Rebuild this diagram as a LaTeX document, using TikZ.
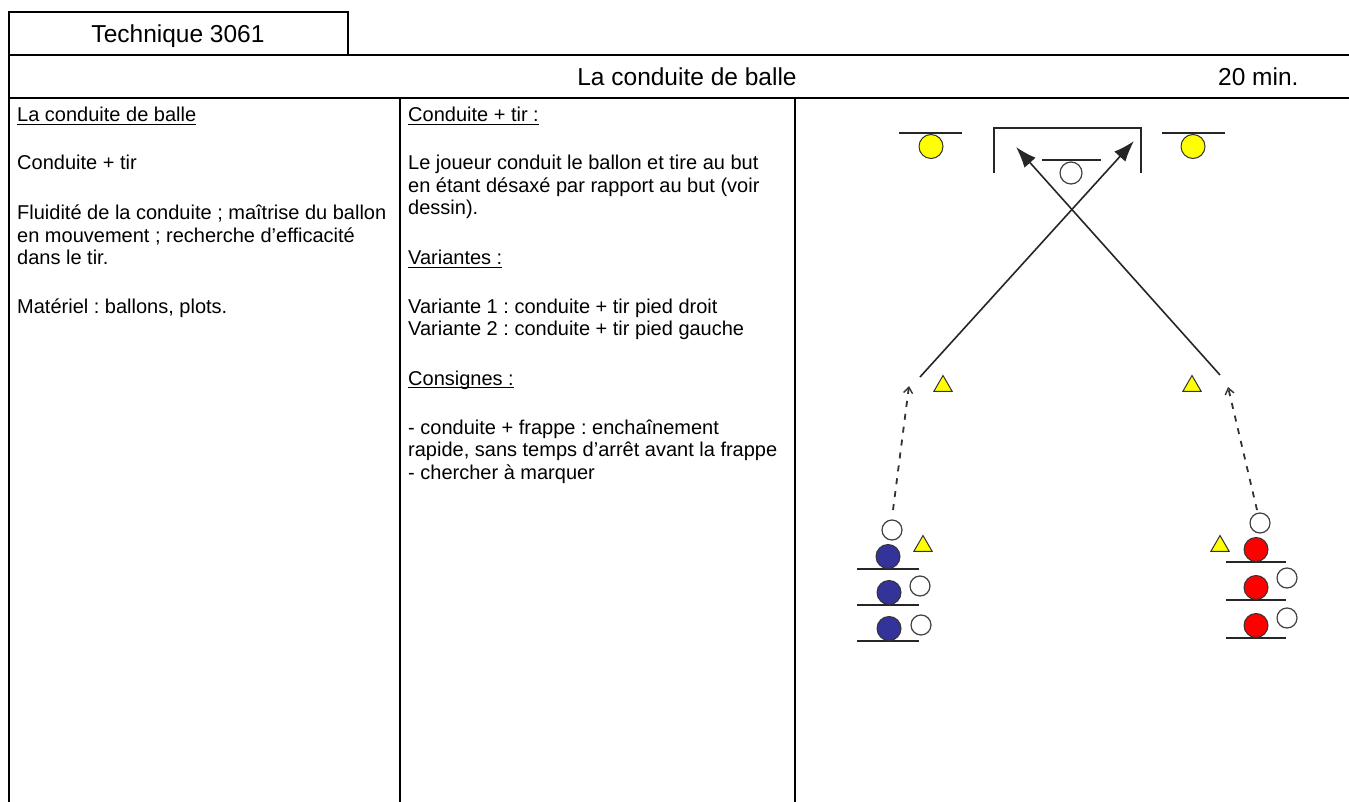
\documentclass[tikz,border=0pt]{standalone}
\usepackage{fontspec}
\setmainfont{Liberation Sans}
\usetikzlibrary{arrows.meta,shapes.geometric}
\frenchspacing
\newcommand\undl[1]{\setbox0=\hbox{#1}\rlap{\rule[-3.2pt]{\wd0}{1.1pt}}\box0}
\definecolor{pblue}{HTML}{333399}
\definecolor{pred}{HTML}{FF0000}
\definecolor{pyel}{HTML}{FFFF00}
\begin{document}
\begin{tikzpicture}[x=1pt,y=-1pt,
  frame/.style={line width=2pt,black},
  body/.style={anchor=base west,inner sep=0pt,font=\fontsize{20}{24}\selectfont},
  head/.style={inner sep=0pt,font=\fontsize{24.5}{28}\selectfont},
  fline/.style={line width=1.7pt,black!85},
  player/.style={circle,draw=black!80,line width=1pt,minimum size=24pt,inner sep=0pt},
  blueplayer/.style={player,fill=pblue},
  redplayer/.style={player,fill=pred},
  yelplayer/.style={player,fill=pyel},
  ball/.style={circle,draw=black!75,line width=1.2pt,fill=white,minimum size=20pt,inner sep=0pt},
  cone/.style={regular polygon,regular polygon sides=3,draw=black!80,line width=1pt,fill=pyel,minimum size=21pt,inner sep=0pt},
  shot/.style={line width=1.6pt,black!85,-{Latex[length=21pt,width=15pt]}},
  run/.style={line width=1.8pt,black!80,dash pattern=on 6pt off 7pt,-{Straight Barb[length=6pt,width=9pt,line width=1.4pt]}}
]
\useasboundingbox (0,0) rectangle (1349,802);
\fill[white] (0,0) rectangle (1349,802);

% frame
\draw[frame] (9,55) -- (9,12) -- (348,12) -- (348,55);
\draw[frame] (9,55) -- (1349,55);
\draw[frame] (9,98) -- (1349,98);
\draw[frame] (9,12) -- (9,802);
\draw[frame] (400,98) -- (400,802);
\draw[frame] (795,98) -- (795,802);

% header texts
\node[head,anchor=base] (tech) at (178,43) {Technique 3061};
\node[head,anchor=base] (title) at (687,86) {La conduite de balle};
\node[head,anchor=base west] (dur) at (1218,86) {20 min.};

% left column
\node[body] (l1) at (17,122) {\undl{La conduite de balle}};
\node[body] (l2) at (17,170) {Conduite + tir};
\node[body] (l3) at (17,220) {Fluidité de la conduite ; maîtrise du ballon};
\node[body] (l4) at (17,242.5) {en mouvement ; recherche d’efficacité};
\node[body] (l5) at (17,265) {dans le tir.};
\node[body] (l6) at (17,313) {Matériel : ballons, plots.};

% middle column
\node[body] (m1) at (408,122) {\undl{Conduite + tir :}};
\node[body] (m2) at (408,170) {Le joueur conduit le ballon et tire au but};
\node[body] (m3) at (408,192.5) {en étant désaxé par rapport au but (voir};
\node[body] (m4) at (408,215) {dessin).};
\node[body] (m5) at (408,265) {\undl{Variantes :}};
\node[body] (m6) at (408,313) {Variante 1 : conduite + tir pied droit};
\node[body] (m7) at (408,335.5) {Variante 2 : conduite + tir pied gauche};
\node[body] (m8) at (408,385) {\undl{Consignes :}};
\node[body] (m9) at (408,434) {- conduite + frappe : enchaînement};
\node[body] (m10) at (408,456.5) {rapide, sans temps d’arrêt avant la frappe};
\node[body] (m11) at (408,479) {- chercher à marquer};

% goal and keeper
\draw[line width=1.8pt,black!85] (994,173) -- (994,128) -- (1141,128) -- (1141,173);
\draw[fline] (1042,160) -- (1101,160);
\node[ball,minimum size=22pt] (gk) at (1071,173) {};

% top yellow players
\draw[fline] (899,133) -- (962,133);
\node[yelplayer] (yl) at (931,146.5) {};
\draw[fline] (1162,133) -- (1225,133);
\node[yelplayer] (yr) at (1193,146.5) {};

% cones
\node[cone] (c1) at (943,386) {};
\node[cone] (c2) at (1192,386) {};
\node[cone] (c3) at (923,546) {};
\node[cone] (c4) at (1220,546) {};

% shots
\coordinate (s1a) at (920,377);
\coordinate (s1b) at (1134,141);
\coordinate (s2a) at (1220,375);
\coordinate (s2b) at (1016,147);
\draw[shot] (s1a) -- (s1b);
\draw[shot] (s2a) -- (s2b);

% runs
\coordinate (r1a) at (893,510);
\coordinate (r1b) at (909,386);
\coordinate (r2a) at (1257,510);
\coordinate (r2b) at (1228,387);
\draw[run] (r1a) -- (r1b);
\draw[run] (r2a) -- (r2b);

% blue group
\node[ball] (bw0) at (892,530) {};
\draw[fline] (857,569) -- (919,569);
\node[blueplayer] (b1) at (888,556.5) {};
\draw[fline] (857,605) -- (919,605);
\node[blueplayer] (b2) at (889,592.5) {};
\node[ball] (bw2) at (920,586) {};
\draw[fline] (857,641) -- (919,641);
\node[blueplayer] (b3) at (889,628.5) {};
\node[ball] (bw3) at (921,625) {};

% red group
\node[ball] (rw0) at (1260,523) {};
\draw[fline] (1226,562) -- (1286,562);
\node[redplayer] (rp1) at (1256,549.5) {};
\draw[fline] (1226,600) -- (1286,600);
\node[redplayer] (rp2) at (1256,587.5) {};
\node[ball] (rw2) at (1287,578) {};
\draw[fline] (1226,638) -- (1286,638);
\node[redplayer] (rp3) at (1256,625.5) {};
\node[ball] (rw3) at (1287,618) {};
\end{tikzpicture}
\end{document}
